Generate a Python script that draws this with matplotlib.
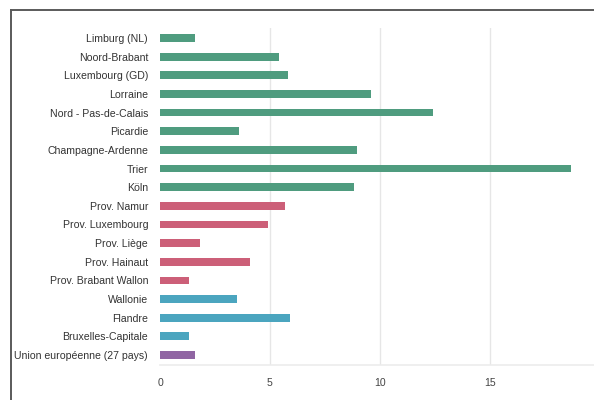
import matplotlib
matplotlib.use("Agg")
import matplotlib.pyplot as plt
from matplotlib.lines import Line2D

plt.rcParams['font.family'] = ['Liberation Sans', 'DejaVu Sans']

categories = [
    "Limburg (NL)", "Noord-Brabant", "Luxembourg (GD)", "Lorraine",
    "Nord - Pas-de-Calais", "Picardie", "Champagne-Ardenne", "Trier", "Köln",
    "Prov. Namur", "Prov. Luxembourg", "Prov. Liège", "Prov. Hainaut",
    "Prov. Brabant Wallon", "Wallonie", "Flandre", "Bruxelles-Capitale",
    "Union européenne (27 pays)",
]
values = [1.6, 5.4, 5.8, 9.6, 12.4, 3.6, 8.95, 18.7, 8.8,
          5.7, 4.9, 1.8, 4.1, 1.3, 3.5, 5.9, 1.3, 1.6]
groups = ["g"] * 9 + ["r"] * 5 + ["b"] * 3 + ["p"]
group_colors = {"g": "#4f9c7f", "r": "#cc5f78", "b": "#4ba5bf", "p": "#9065a3"}
xticks = [0, 5, 10, 15, 20]

fig = plt.figure(figsize=(5.94, 4.0), dpi=100)
ax = fig.add_axes([160 / 594, 35 / 400, 440 / 594, 337 / 400])

ypos = list(range(len(categories)))
ax.barh(ypos, values, height=0.42, color=[group_colors[g] for g in groups], zorder=3)

ax.set_xlim(0, 20)
ax.set_ylim(len(categories) - 1 + 0.535, -0.535)
ax.set_yticks(ypos)
ax.set_yticklabels(categories)
ax.set_xticks(xticks)
ax.set_xticklabels([str(t) for t in xticks])
ax.tick_params(axis='y', length=0, pad=8.6, labelsize=7.6, labelcolor='#333333')
ax.tick_params(axis='x', length=0, pad=9, labelsize=7.6, labelcolor='#444444')

for s in ['top', 'right', 'left']:
    ax.spines[s].set_visible(False)
ax.spines['bottom'].set_color('#ececec')
ax.spines['bottom'].set_linewidth(1.2)

ax.grid(axis='x', color='#e6e6e6', linewidth=1.0, zorder=0)
ax.get_xgridlines()[0].set_visible(False)
ax.set_axisbelow(True)

# outer frame (top and left border)
fig.add_artist(Line2D([11 / 594, 1.0], [1 - 10 / 400, 1 - 10 / 400],
                      color='#5a5a5a', linewidth=1.4, transform=fig.transFigure))
fig.add_artist(Line2D([11 / 594, 11 / 594], [0, 1 - 10 / 400],
                      color='#5a5a5a', linewidth=1.4, transform=fig.transFigure))

fig.savefig("out.png", dpi=100)
